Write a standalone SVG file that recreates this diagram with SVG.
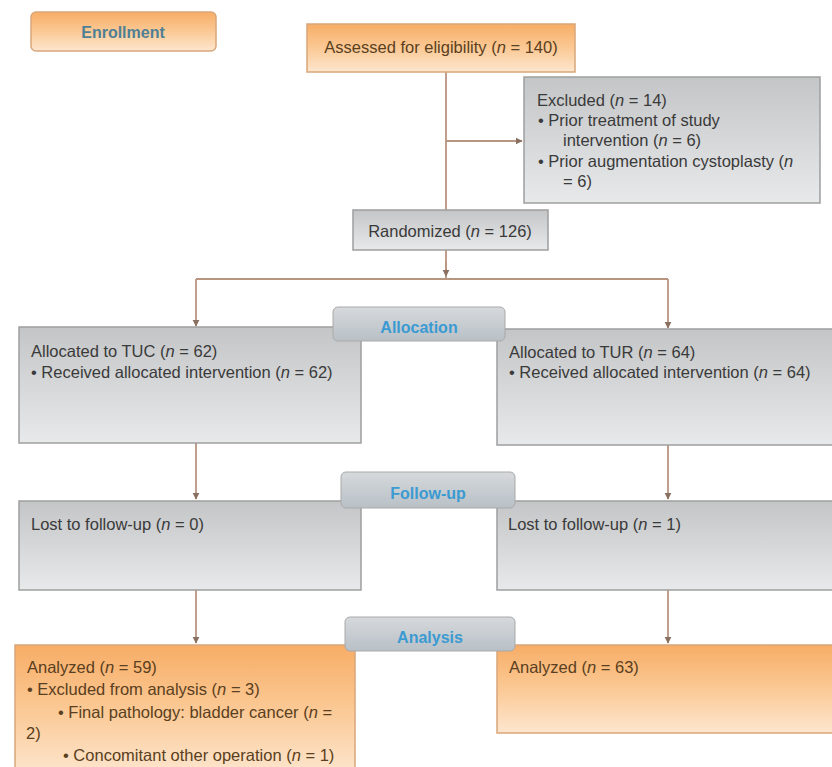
<svg xmlns="http://www.w3.org/2000/svg" width="832" height="767" viewBox="0 0 832 767">
<defs>
<linearGradient id="gOr" x1="0" y1="0" x2="0" y2="1">
<stop offset="0" stop-color="#f7ad66"/><stop offset="0.5" stop-color="#fbc995"/><stop offset="1" stop-color="#fde6cf"/>
</linearGradient>
<linearGradient id="gGr" x1="0" y1="0" x2="0" y2="1">
<stop offset="0" stop-color="#c3c5c7"/><stop offset="1" stop-color="#e8e9ea"/>
</linearGradient>
<linearGradient id="gTab" x1="0" y1="0" x2="0" y2="1">
<stop offset="0" stop-color="#d6d9dc"/><stop offset="1" stop-color="#b8c0c6"/>
</linearGradient>
<marker id="arr" viewBox="0 0 10 10" refX="9" refY="5" markerWidth="4" markerHeight="4" orient="auto">
<path d="M0,0 L10,5 L0,10 z" fill="#8a7060"/>
</marker>
</defs>
<style>
.t{font-family:"Liberation Sans",Arial,sans-serif;font-size:16.5px;fill:#3a3a3a}
.to{font-family:"Liberation Sans",Arial,sans-serif;font-size:16.5px;fill:#5a4020}
.lab{font-family:"Liberation Sans",Arial,sans-serif;font-size:16px;font-weight:bold;fill:#3b9ad2;text-anchor:middle}
.or{fill:url(#gOr);stroke:#d9a77a;stroke-width:1.5}
.gr{fill:url(#gGr);stroke:#9e9e9e;stroke-width:1.5}
.tab{fill:url(#gTab);stroke:#a9a9a9;stroke-width:1}
.ln{stroke:#b8957f;stroke-width:1.8;fill:none}
</style>
<rect width="832" height="767" fill="#ffffff"/>
<g id="connectors">
<path class="ln" d="M446,72 V210"/>
<path class="ln" d="M446,141 H522" marker-end="url(#arr)"/>
<path class="ln" d="M446,250 V279" />
<path class="ln" d="M446,262 V276" marker-end="url(#arr)"/>
<path class="ln" d="M196,279 H668"/>
<path class="ln" d="M196,279 V326" marker-end="url(#arr)"/>
<path class="ln" d="M668,279 V328" marker-end="url(#arr)"/>
<path class="ln" d="M196,443 V499" marker-end="url(#arr)"/>
<path class="ln" d="M668,445 V499" marker-end="url(#arr)"/>
<path class="ln" d="M196,590 V643" marker-end="url(#arr)"/>
<path class="ln" d="M668,590 V643" marker-end="url(#arr)"/>
</g>
<g id="enrollment">
<rect class="or" x="31" y="12" width="185" height="39" rx="5"/>
<text x="123" y="38" class="lab" style="fill:#4f7f95">Enrollment</text>
</g>
<g id="assessed">
<rect class="or" x="307" y="24" width="268" height="48"/>
<text x="441" y="53" class="to" text-anchor="middle">Assessed for eligibility (<tspan font-style="italic">n</tspan> = 140)</text>
</g>
<g id="excluded">
<rect class="gr" x="524" y="77" width="296" height="126"/>
<text class="t" x="537" y="106">Excluded (<tspan font-style="italic">n</tspan> = 14)</text>
<text class="t" x="538" y="126">•  Prior treatment of study</text>
<text class="t" x="563" y="146">intervention (<tspan font-style="italic">n</tspan> = 6)</text>
<text class="t" x="538" y="167">•  Prior augmentation cystoplasty (<tspan font-style="italic">n</tspan></text>
<text class="t" x="563" y="187">= 6)</text>
</g>
<g id="randomized">
<rect class="gr" x="353" y="210" width="195" height="40"/>
<text class="t" x="450" y="237" text-anchor="middle">Randomized (<tspan font-style="italic">n</tspan> = 126)</text>
</g>
<g id="tuc-alloc">
<rect class="gr" x="19" y="327" width="342" height="116"/>
<text class="t" x="31" y="357">Allocated to TUC (<tspan font-style="italic">n</tspan> = 62)</text>
<text class="t" x="31" y="378">• Received allocated intervention (<tspan font-style="italic">n</tspan> = 62)</text>
</g>
<g id="tur-alloc">
<rect class="gr" x="497" y="329" width="340" height="116"/>
<text class="t" x="509" y="358">Allocated to TUR (<tspan font-style="italic">n</tspan> = 64)</text>
<text class="t" x="509" y="378">• Received allocated intervention (<tspan font-style="italic">n</tspan> = 64)</text>
</g>
<g id="allocation">
<rect class="tab" x="333" y="307" width="172" height="34" rx="5"/>
<text class="lab" x="419" y="333">Allocation</text>
</g>
<g id="tuc-lost">
<rect class="gr" x="19" y="501" width="342" height="89"/>
<text class="t" x="31" y="530">Lost to follow-up (<tspan font-style="italic">n</tspan> = 0)</text>
</g>
<g id="tur-lost">
<rect class="gr" x="497" y="501" width="340" height="89"/>
<text class="t" x="508" y="530">Lost to follow-up (<tspan font-style="italic">n</tspan> = 1)</text>
</g>
<g id="followup">
<rect class="tab" x="341" y="472" width="174" height="36" rx="5"/>
<text class="lab" x="428" y="499">Follow-up</text>
</g>
<g id="tuc-analyzed">
<rect class="or" x="15" y="645" width="340" height="130"/>
<text class="to" x="27" y="673">Analyzed (<tspan font-style="italic">n</tspan> = 59)</text>
<text class="to" x="27" y="695">• Excluded from analysis (<tspan font-style="italic">n</tspan> = 3)</text>
<text class="to" x="58" y="718">• Final pathology: bladder cancer (<tspan font-style="italic">n</tspan> =</text>
<text class="to" x="26" y="739">2)</text>
<text class="to" x="63" y="761">• Concomitant other operation (<tspan font-style="italic">n</tspan> = 1)</text>
</g>
<g id="tur-analyzed">
<rect class="or" x="497" y="645" width="340" height="88"/>
<text class="to" x="509" y="673">Analyzed (<tspan font-style="italic">n</tspan> = 63)</text>
</g>
<g id="analysis">
<rect class="tab" x="345" y="617" width="170" height="34" rx="5"/>
<text class="lab" x="430" y="643">Analysis</text>
</g>
</svg>
